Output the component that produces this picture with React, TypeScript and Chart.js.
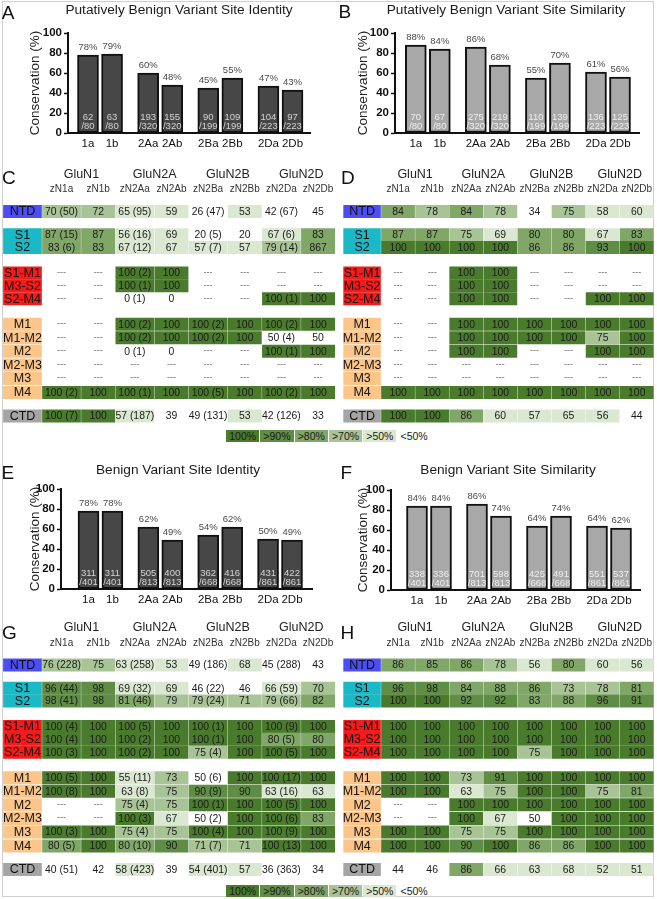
import React, { useEffect, useRef } from 'react';
import { Chart, registerables } from 'chart.js';

Chart.register(...registerables);

const FONT = '"Liberation Sans", Arial, Helvetica, sans-serif';

// ---------------- Bar chart data ----------------
const barCategories = ['1a', '1b', '2Aa', '2Ab', '2Ba', '2Bb', '2Da', '2Db'];

const putativeIdentityPct = [78, 79, 60, 48, 45, 55, 47, 43];
const putativeIdentityNum = [62, 63, 193, 155, 90, 109, 104, 97];
const putativeSimilarityPct = [88, 84, 86, 68, 55, 70, 61, 56];
const putativeSimilarityNum = [70, 67, 275, 219, 110, 139, 136, 125];
const putativeDen = [80, 80, 320, 320, 199, 199, 223, 223];

const benignIdentityPct = [78, 78, 62, 49, 54, 62, 50, 49];
const benignIdentityNum = [311, 311, 505, 400, 362, 416, 431, 422];
const benignSimilarityPct = [84, 84, 86, 74, 64, 74, 64, 62];
const benignSimilarityNum = [338, 336, 701, 598, 425, 491, 551, 537];
const benignDen = [401, 401, 813, 813, 668, 668, 861, 861];

// ---------------- Table data ----------------
const subunitGroups = ['GluN1', 'GluN2A', 'GluN2B', 'GluN2D'];
const variantColumns = ['zN1a', 'zN1b', 'zN2Aa', 'zN2Ab', 'zN2Ba', 'zN2Bb', 'zN2Da', 'zN2Db'];
const domainRows = ['NTD', 'S1', 'S2', 'S1-M1', 'M3-S2', 'S2-M4', 'M1', 'M1-M2', 'M2', 'M2-M3', 'M3', 'M4', 'CTD'];
const domainKinds = ['ntd', 's', 's', 'linker', 'linker', 'linker', 'm', 'm', 'm', 'm', 'm', 'm', 'ctd'];
const legendLabels = ['100%', '>90%', '>80%', '>70%', '>50%', '<50%'];

const D3 = '---';
const tableC = [
  ['70 (50)', '72', '65 (95)', '59', '26 (47)', '53', '42 (67)', '45'],
  ['87 (15)', '87', '56 (16)', '69', '20 (5)', '20', '67 (6)', '83'],
  ['83 (6)', '83', '67 (12)', '67', '57 (7)', '57', '79 (14)', '867'],
  [D3, D3, '100 (2)', '100', D3, D3, D3, D3],
  [D3, D3, '100 (1)', '100', D3, D3, D3, D3],
  [D3, D3, '0 (1)', '0', D3, D3, '100 (1)', '100'],
  [D3, D3, '100 (2)', '100', '100 (2)', '100', '100 (2)', '100'],
  [D3, D3, '100 (2)', '100', '100 (2)', '100', '50 (4)', '50'],
  [D3, D3, '0 (1)', '0', D3, D3, '100 (1)', '100'],
  [D3, D3, D3, D3, D3, D3, D3, D3],
  [D3, D3, D3, D3, D3, D3, D3, D3],
  ['100 (2)', '100', '100 (1)', '100', '100 (5)', '100', '100 (2)', '100'],
  ['100 (7)', '100', '57 (187)', '39', '49 (131)', '53', '42 (126)', '33'],
];
const tableD = [
  ['84', '78', '84', '78', '34', '75', '58', '60'],
  ['87', '87', '75', '69', '80', '80', '67', '83'],
  ['100', '100', '100', '100', '86', '86', '93', '100'],
  [D3, D3, '100', '100', D3, D3, D3, D3],
  [D3, D3, '100', '100', D3, D3, D3, D3],
  [D3, D3, '100', '100', D3, D3, '100', '100'],
  [D3, D3, '100', '100', '100', '100', '100', '100'],
  [D3, D3, '100', '100', '100', '100', '75', '100'],
  [D3, D3, '100', '100', D3, D3, '100', '100'],
  [D3, D3, D3, D3, D3, D3, D3, D3],
  [D3, D3, D3, D3, D3, D3, D3, D3],
  ['100', '100', '100', '100', '100', '100', '100', '100'],
  ['100', '100', '86', '60', '57', '65', '56', '44'],
];
const tableG = [
  ['76 (228)', '75', '63 (258)', '53', '49 (186)', '68', '45 (288)', '43'],
  ['96 (44)', '98', '69 (32)', '69', '46 (22)', '46', '66 (59)', '70'],
  ['98 (41)', '98', '81 (46)', '79', '79 (24)', '71', '79 (66)', '82'],
  ['100 (4)', '100', '100 (5)', '100', '100 (1)', '100', '100 (9)', '100'],
  ['100 (4)', '100', '100 (2)', '100', '100 (1)', '100', '80 (5)', '80'],
  ['100 (3)', '100', '100 (2)', '100', '75 (4)', '100', '100 (5)', '100'],
  ['100 (5)', '100', '55 (11)', '73', '50 (6)', '100', '100 (17)', '100'],
  ['100 (8)', '100', '63 (8)', '75', '90 (9)', '90', '63 (16)', '63'],
  [D3, D3, '75 (4)', '75', '100 (1)', '100', '100 (5)', '100'],
  [D3, D3, '100 (3)', '67', '50 (2)', '100', '100 (6)', '83'],
  ['100 (3)', '100', '75 (4)', '75', '100 (4)', '100', '100 (9)', '100'],
  ['80 (5)', '100', '80 (10)', '90', '71 (7)', '71', '100 (13)', '100'],
  ['40 (51)', '42', '58 (423)', '39', '54 (401)', '57', '36 (363)', '34'],
];
const tableH = [
  ['86', '85', '86', '78', '56', '80', '60', '56'],
  ['96', '98', '84', '88', '86', '73', '78', '81'],
  ['100', '100', '92', '92', '83', '88', '96', '91'],
  ['100', '100', '100', '100', '100', '100', '100', '100'],
  ['100', '100', '100', '100', '100', '100', '100', '100'],
  ['100', '100', '100', '100', '75', '100', '100', '100'],
  ['100', '100', '73', '91', '100', '100', '100', '100'],
  ['100', '100', '63', '75', '100', '100', '75', '81'],
  [D3, D3, '100', '100', '100', '100', '100', '100'],
  [D3, D3, '100', '67', '50', '100', '100', '100'],
  ['100', '100', '75', '75', '100', '100', '100', '100'],
  ['100', '100', '90', '100', '86', '86', '100', '100'],
  ['44', '46', '86', '66', '63', '68', '52', '51'],
];

// ---------------- Styles / layout ----------------
const levelColors = ['#4a7b2d', '#5f8d45', '#80a668', '#a8c497', '#dbe8d1', 'rgba(255,255,255,0)'];
const kindColors: Record<string, string> = {
  ntd: '#4d4df5',
  s: '#1bb8c6',
  linker: '#f41b1b',
  m: '#fcc589',
  ctd: '#a5a5a5',
};
const barPositions = [0, 1, 2.5, 3.5, 5, 6, 7.5, 8.5];
const rowPos = [0, 1.72, 2.66, 4.55, 5.5, 6.47, 8.35, 9.35, 10.35, 11.37, 12.37, 13.4, 15.15];
const ROW_PITCH = 13.5;

function level(text: string): number {
  const v = parseFloat(text);
  if (isNaN(v)) return -1;
  if (v === 100) return 0;
  if (v >= 90 && v < 100) return 1;
  if (v >= 80) return 2;
  if (v >= 70) return 3;
  if (v > 50) return 4;
  return 5;
}

type BarPanel = {
  left: number; top: number; width: number; height: number;
  plotLeft: number; plotRight: number; plotTop: number; plotBottom: number;
  firstCenter: number; lastCenter: number;
  title: string; titleX: number; titleBase: number; yTitleX: number;
  pct: number[]; num: number[]; den: number[];
  fill: string; inner: string;
};

const barPanels: BarPanel[] = [
  {
    left: 0, top: 0, width: 327, height: 160,
    plotLeft: 68, plotRight: 310, plotTop: 33, plotBottom: 133,
    firstCenter: 88, lastCenter: 292.5,
    title: 'Putatively Benign Variant Site Identity', titleX: 179, titleBase: 14, yTitleX: 35,
    pct: putativeIdentityPct, num: putativeIdentityNum, den: putativeDen,
    fill: '#474747', inner: '#d4d4d4',
  },
  {
    left: 327, top: 0, width: 330, height: 160,
    plotLeft: 68, plotRight: 312, plotTop: 33, plotBottom: 133,
    firstCenter: 88.8, lastCenter: 293,
    title: 'Putatively Benign Variant Site Similarity', titleX: 179, titleBase: 14, yTitleX: 36,
    pct: putativeSimilarityPct, num: putativeSimilarityNum, den: putativeDen,
    fill: '#a8a8a8', inner: '#eeeeee',
  },
  {
    left: 0, top: 460, width: 327, height: 160,
    plotLeft: 61, plotRight: 312, plotTop: 29, plotBottom: 129,
    firstCenter: 88.5, lastCenter: 292,
    title: 'Benign Variant Site Identity', titleX: 178, titleBase: 13.5, yTitleX: 35,
    pct: benignIdentityPct, num: benignIdentityNum, den: benignDen,
    fill: '#474747', inner: '#d4d4d4',
  },
  {
    left: 327, top: 460, width: 330, height: 160,
    plotLeft: 64, plotRight: 313, plotTop: 30, plotBottom: 130,
    firstCenter: 90, lastCenter: 294,
    title: 'Benign Variant Site Similarity', titleX: 181, titleBase: 14, yTitleX: 36,
    pct: benignSimilarityPct, num: benignSimilarityNum, den: benignDen,
    fill: '#a8a8a8', inner: '#eeeeee',
  },
];

type TablePanel = {
  left: number; top: number; width: number; height: number;
  ntdY: number; cellsLeft: number; unitPx: number;
  colWidths: number[]; labelWidth: number; groupShift: number;
  data: string[][];
};

const WIDE = [1.14, 1, 1.14, 1, 1.14, 1, 1.14, 1];
const EVEN = [1, 1, 1, 1, 1, 1, 1, 1];

const tablePanels: TablePanel[] = [
  { left: 0, top: 160, width: 337, height: 265, ntdY: 51.5, cellsLeft: 42, unitPx: 34.25, colWidths: WIDE, labelWidth: 1.14, groupShift: 0.08, data: tableC },
  { left: 327, top: 160, width: 330, height: 265, ntdY: 51.5, cellsLeft: 54, unitPx: 34.1, colWidths: EVEN, labelWidth: 1.11, groupShift: 0, data: tableD },
  { left: 0, top: 613, width: 337, height: 265, ntdY: 52, cellsLeft: 42, unitPx: 34.25, colWidths: WIDE, labelWidth: 1.14, groupShift: 0.08, data: tableG },
  { left: 327, top: 613, width: 330, height: 265, ntdY: 52, cellsLeft: 54, unitPx: 34.1, colWidths: EVEN, labelWidth: 1.11, groupShift: 0, data: tableH },
];

// ---------------- Components ----------------
function BarChartPanel({ p }: { p: BarPanel }) {
  const ref = useRef<HTMLCanvasElement | null>(null);
  useEffect(() => {
    if (!ref.current) return;
    const n = barPositions.length;
    const unit = (p.lastCenter - p.firstCenter) / (barPositions[n - 1] - barPositions[0]);
    const xMin = barPositions[0] - (p.firstCenter - p.plotLeft) / unit;
    const xMax = barPositions[n - 1] + (p.plotRight - p.lastCenter) / unit;
    const titleFontSize = 13.7;
    const labelPlugin = {
      id: 'barLabels',
      afterDatasetsDraw(chart: any) {
        const ctx = chart.ctx;
        const xs = chart.scales.x;
        const ys = chart.scales.y;
        ctx.save();
        ctx.textAlign = 'center';
        ctx.textBaseline = 'middle';
        const base = ys.getPixelForValue(0);
        barPositions.forEach((pos, i) => {
          const cx = xs.getPixelForValue(pos);
          const top = ys.getPixelForValue(p.pct[i]);
          ctx.fillStyle = '#4a4a4a';
          ctx.font = `9.5px ${FONT}`;
          ctx.fillText(`${p.pct[i]}%`, cx, top - 8);
          ctx.fillStyle = p.inner;
          ctx.font = `9.5px ${FONT}`;
          ctx.fillText(String(p.num[i]), cx, base - 16);
          ctx.fillText(`/${p.den[i]}`, cx, base - 6.5);
        });
        ctx.fillStyle = '#1a1a1a';
        ctx.font = `${titleFontSize}px ${FONT}`;
        ctx.textBaseline = 'alphabetic';
        ctx.fillText(p.title, p.titleX, p.titleBase);
        ctx.restore();
      },
    };
    const chart = new Chart(ref.current, {
      type: 'bar',
      data: {
        datasets: [
          {
            data: barPositions.map((x, i) => ({ x, y: p.pct[i] })),
            backgroundColor: p.fill,
            borderColor: '#111',
            borderWidth: 2,
            borderSkipped: false,
            barThickness: 21,
          } as any,
        ],
      },
      options: {
        animation: false,
        responsive: false,
        events: [],
        layout: { padding: { left: 0, top: p.plotTop, right: p.width - p.plotRight, bottom: 0 } },
        plugins: { legend: { display: false }, tooltip: { enabled: false }, title: { display: false } },
        scales: {
          x: {
            type: 'linear',
            offset: false,
            min: xMin,
            max: xMax,
            afterBuildTicks: (ax: any) => {
              ax.ticks = barPositions.map((v) => ({ value: v }));
            },
            ticks: {
              callback: (v: any) => {
                const k = barPositions.indexOf(Number(v));
                return k >= 0 ? barCategories[k] : '';
              },
              font: { family: FONT, size: 11.5 },
              color: '#111',
              padding: 4,
              maxRotation: 0,
              autoSkip: false,
            },
            grid: { drawOnChartArea: false, drawTicks: false, offset: false },
            border: { display: true, color: '#111', width: 2 },
            afterFit: (s: any) => {
              s.height = p.height - p.plotBottom;
            },
          },
          y: {
            min: 0,
            max: 100,
            ticks: { stepSize: 20, font: { family: FONT, size: 11.5, weight: 'bold' }, color: '#111', padding: 2 },
            grid: { drawOnChartArea: false, drawTicks: true, tickLength: 4, tickColor: '#111', tickWidth: 1.5 },
            border: { display: true, color: '#111', width: 2 },
            title: {
              display: true,
              text: 'Conservation (%)',
              font: { family: FONT, size: 13.5 },
              color: '#222',
              padding: { top: p.yTitleX - 8.1, bottom: 0 },
            },
            afterFit: (s: any) => {
              s.width = p.plotLeft;
            },
          },
        },
      } as any,
      plugins: [labelPlugin],
    });
    return () => chart.destroy();
  }, []);
  return (
    <canvas
      ref={ref}
      width={p.width}
      height={p.height}
      style={{ position: 'absolute', left: p.left, top: p.top, width: p.width, height: p.height }}
    />
  );
}

function TableChartPanel({ t }: { t: TablePanel }) {
  const ref = useRef<HTMLCanvasElement | null>(null);
  useEffect(() => {
    if (!ref.current) return;
    const edges = [0];
    t.colWidths.forEach((w) => edges.push(edges[edges.length - 1] + w));
    const xMin = -t.cellsLeft / t.unitPx;
    const xMax = xMin + t.width / t.unitPx;
    const yMin = -t.ntdY / ROW_PITCH;
    const yMax = yMin + t.height / ROW_PITCH;
    const gap = 0.5 / t.unitPx;

    const labelData = domainRows.map((_, i) => ({ x: [-t.labelWidth + gap, -gap], y: rowPos[i] }));
    const labelColors = domainKinds.map((k) => kindColors[k]);
    const cellData: any[] = [];
    const cellColors: string[] = [];
    t.data.forEach((row, i) =>
      row.forEach((txt, j) => {
        const lv = level(txt);
        if (lv < 0) return;
        cellData.push({ x: [edges[j] + gap, edges[j + 1] - gap], y: rowPos[i] });
        cellColors.push(levelColors[lv]);
      })
    );

    const textPlugin = {
      id: 'tableText',
      afterDatasetsDraw(chart: any) {
        const ctx = chart.ctx;
        const xs = chart.scales.x;
        const ys = chart.scales.y;
        ctx.save();
        ctx.textAlign = 'center';
        ctx.textBaseline = 'middle';
        ctx.fillStyle = '#222';
        ctx.font = `12.5px ${FONT}`;
        subunitGroups.forEach((g, k) => {
          const cx = xs.getPixelForValue((edges[2 * k] + edges[2 * k + 2]) / 2 + t.groupShift);
          ctx.fillText(g, cx, ys.getPixelForValue(-2.76));
        });
        ctx.font = `10px ${FONT}`;
        ctx.fillStyle = '#333';
        variantColumns.forEach((c, j) => {
          const cx = xs.getPixelForValue((edges[j] + edges[j + 1]) / 2);
          ctx.fillText(c, cx, ys.getPixelForValue(-1.63));
        });
        ctx.font = `12.5px ${FONT}`;
        ctx.fillStyle = '#111';
        domainRows.forEach((r, i) => {
          const cx = xs.getPixelForValue(-t.labelWidth / 2);
          ctx.fillText(r, cx, ys.getPixelForValue(rowPos[i]) + 0.5);
        });
        t.data.forEach((row, i) =>
          row.forEach((txt, j) => {
            const cx = xs.getPixelForValue((edges[j] + edges[j + 1]) / 2);
            const cy = ys.getPixelForValue(rowPos[i]) + 0.5;
            if (level(txt) < 0) {
              ctx.font = `9px ${FONT}`;
              ctx.fillStyle = '#666';
              ctx.fillText(txt, cx, cy - 1);
            } else {
              ctx.font = `10.4px ${FONT}`;
              ctx.fillStyle = '#1a1a1a';
              ctx.fillText(txt, cx, cy);
            }
          })
        );
        ctx.restore();
      },
    };

    const chart = new Chart(ref.current, {
      type: 'bar',
      data: {
        datasets: [
          { data: labelData, backgroundColor: labelColors, borderWidth: 0, barThickness: 12.3, grouped: false } as any,
          { data: cellData, backgroundColor: cellColors, borderWidth: 0, barThickness: 12.3, grouped: false } as any,
        ],
      },
      options: {
        indexAxis: 'y',
        animation: false,
        responsive: false,
        events: [],
        layout: { padding: 0 },
        plugins: { legend: { display: false }, tooltip: { enabled: false }, title: { display: false } },
        scales: {
          x: { type: 'linear', display: false, offset: false, min: xMin, max: xMax },
          y: { type: 'linear', display: false, offset: false, min: yMin, max: yMax, reverse: true, grid: { offset: false } },
        },
      } as any,
      plugins: [textPlugin],
    });
    return () => chart.destroy();
  }, []);
  return (
    <canvas
      ref={ref}
      width={t.width}
      height={t.height}
      style={{ position: 'absolute', left: t.left, top: t.top, width: t.width, height: t.height }}
    />
  );
}

function Legend({ left, top }: { left: number; top: number }) {
  return (
    <div style={{ position: 'absolute', left, top, display: 'flex', height: 12 }}>
      {legendLabels.map((l, i) => (
        <div
          key={l}
          style={{
            width: 33.3,
            marginRight: 1,
            height: 12,
            background: levelColors[i],
            font: `10.5px ${FONT}`,
            lineHeight: '12px',
            textAlign: 'center',
            color: '#1a1a1a',
          }}
        >
          {l}
        </div>
      ))}
    </div>
  );
}

const panelLetters = [
  { ch: 'A', x: 1.7, y: 2.5 },
  { ch: 'B', x: 338.5, y: 1.5 },
  { ch: 'C', x: 2, y: 167.5 },
  { ch: 'D', x: 341, y: 167.5 },
  { ch: 'E', x: 1.5, y: 462.5 },
  { ch: 'F', x: 340.5, y: 462.5 },
  { ch: 'G', x: 2, y: 622.5 },
  { ch: 'H', x: 340.5, y: 622.5 },
];

export default function App() {
  return (
    <div
      style={{
        position: 'absolute',
        left: 0,
        top: 0,
        width: 657,
        height: 899,
        background: '#fff',
        overflow: 'hidden',
        fontFamily: FONT,
      }}
    >
      <div
        style={{
          position: 'absolute',
          left: 2,
          top: 1,
          width: 650,
          height: 894,
          border: '1px solid #cfcfcf',
        }}
      />
      {barPanels.map((p, i) => (
        <BarChartPanel key={'b' + i} p={p} />
      ))}
      {tablePanels.map((t, i) => (
        <TableChartPanel key={'t' + i} t={t} />
      ))}
      <Legend left={226} top={430} />
      <Legend left={226} top={884.5} />
      {panelLetters.map((l) => (
        <div
          key={l.ch}
          style={{
            position: 'absolute',
            left: l.x,
            top: l.y,
            font: `19px ${FONT}`,
            lineHeight: '19px',
            color: '#111',
          }}
        >
          {l.ch}
        </div>
      ))}
    </div>
  );
}
